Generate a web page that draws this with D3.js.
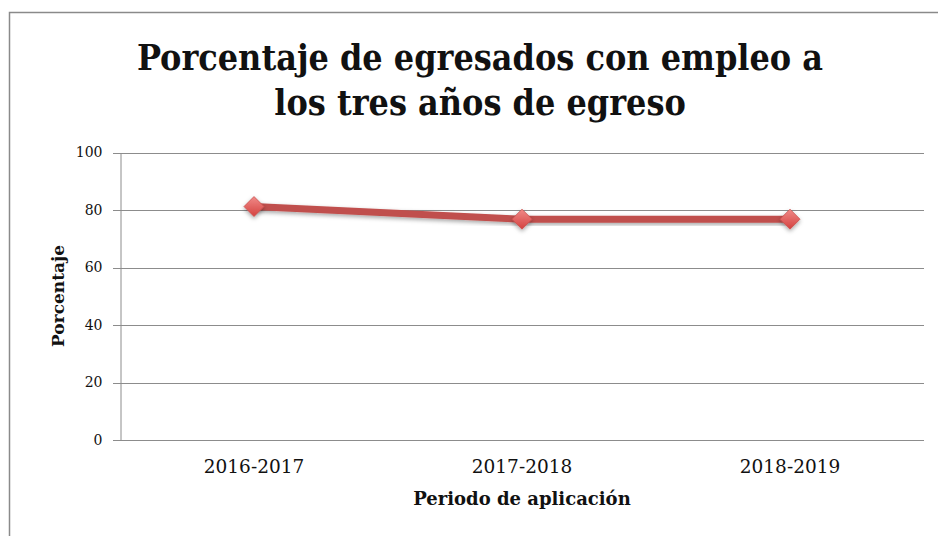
<!DOCTYPE html>
<html>
<head>
<meta charset="utf-8">
<script src="https://cdn.jsdelivr.net/npm/d3@7"></script>
<style>
  body { margin: 0; background: #fff; }
  text { font-family: "DejaVu Serif", serif; fill: #111; }
  .title { font-family: "DejaVu Serif Condensed", "DejaVu Serif", serif; }
</style>
</head>
<body>
<svg id="chart"></svg>
<script>
// chart data
var periods = ["2016-2017", "2017-2018", "2018-2019"];
var percentages = [81.2, 76.8, 76.8];
var yTicks = [0, 20, 40, 60, 80, 100];
var titleLines = ["Porcentaje de egresados con empleo a", "los tres años de egreso"];

var width = 938;
var height = 536;
var plot = { left: 120, right: 924, top: 152.5, bottom: 440 };

var svg = d3.select('#chart')
  .attr('width', width)
  .attr('height', height);

// outer frame
svg.append('path')
  .attr('d', 'M9.5,' + (height + 5) + 'V12.5H' + (width + 5))
  .attr('fill', 'none')
  .attr('stroke', '#8a8a8a')
  .attr('stroke-width', 1.5);

// scales
var x = d3.scaleBand(periods, [plot.left, plot.right]);
var y = d3.scaleLinear([0, 100], [plot.bottom, plot.top]);

// gridlines
svg.append('g')
  .selectAll('line')
  .data(yTicks)
  .enter()
  .append('line')
  .attr('x1', plot.left - 7)
  .attr('x2', plot.right)
  .attr('y1', (d) => Math.round(y(d)) + 0.5)
  .attr('y2', (d) => Math.round(y(d)) + 0.5)
  .attr('stroke', '#8c8c8c')
  .attr('stroke-width', 1);

// y axis
var yAxis = d3.axisLeft(y)
  .tickValues(yTicks)
  .tickSize(0)
  .tickPadding(18);

var yg = svg.append('g')
  .attr('transform', 'translate(' + (plot.left + 0.5) + ',0)')
  .call(yAxis);
yg.select('.domain').attr('stroke', '#8c8c8c');
yg.selectAll('text')
  .attr('font-size', 14)
  .attr('fill', '#1a1a1a');

// x axis
var xAxis = d3.axisBottom(x)
  .tickSize(0)
  .tickPadding(20);

var xg = svg.append('g')
  .attr('transform', 'translate(0,' + plot.bottom + ')')
  .call(xAxis);
xg.select('.domain').remove();
xg.selectAll('text')
  .attr('font-size', 18.5)
  .attr('fill', '#1a1a1a');

// axis titles
svg.append('text')
  .attr('text-anchor', 'middle')
  .attr('x', -296)
  .attr('y', 64)
  .attr('transform', 'rotate(-90)')
  .attr('font-size', 17)
  .attr('font-weight', 'bold')
  .text('Porcentaje');

svg.append('text')
  .attr('text-anchor', 'middle')
  .attr('x', (plot.left + plot.right) / 2)
  .attr('y', 505)
  .attr('font-size', 18)
  .attr('font-weight', 'bold')
  .text('Periodo de aplicación');

// title
svg.append('g')
  .selectAll('text')
  .data(titleLines)
  .enter()
  .append('text')
  .attr('class', 'title')
  .attr('text-anchor', 'middle')
  .attr('x', 480)
  .attr('y', (d, i) => 70 + i * 45)
  .attr('font-size', 35.6)
  .attr('font-weight', 'bold')
  .text((d) => d);

// marker gradient and shadow
var defs = svg.append('defs');
var grad = defs.append('linearGradient')
  .attr('id', 'markerFill')
  .attr('x1', 0).attr('y1', 0).attr('x2', 0).attr('y2', 1);
grad.append('stop').attr('offset', '0%').attr('stop-color', '#f08a88');
grad.append('stop').attr('offset', '100%').attr('stop-color', '#d4413f');

var shadow = defs.append('filter')
  .attr('id', 'shadow')
  .attr('x', '-50%').attr('y', '-50%').attr('width', '200%').attr('height', '200%');
shadow.append('feDropShadow')
  .attr('dx', 0).attr('dy', 2).attr('stdDeviation', 2)
  .attr('flood-color', '#000').attr('flood-opacity', 0.35);

// line
var line = d3.line()
  .x((d, i) => x(periods[i]) + x.bandwidth() / 2)
  .y((d) => y(d));

svg.append('path')
  .datum(percentages)
  .attr('d', line)
  .attr('fill', 'none')
  .attr('stroke', '#c0504d')
  .attr('stroke-width', 7)
  .attr('filter', 'url(#shadow)');

// markers
svg.append('g')
  .selectAll('path')
  .data(percentages)
  .enter()
  .append('path')
  .attr('transform', (d, i) => 'translate(' + (x(periods[i]) + x.bandwidth() / 2) + ',' + y(d) + ')')
  .attr('d', 'M0,-10L10,0L0,10L-10,0Z')
  .attr('fill', 'url(#markerFill)')
  .attr('stroke', '#c9504e')
  .attr('stroke-width', 0.8)
  .attr('filter', 'url(#shadow)');
</script>
</body>
</html>
